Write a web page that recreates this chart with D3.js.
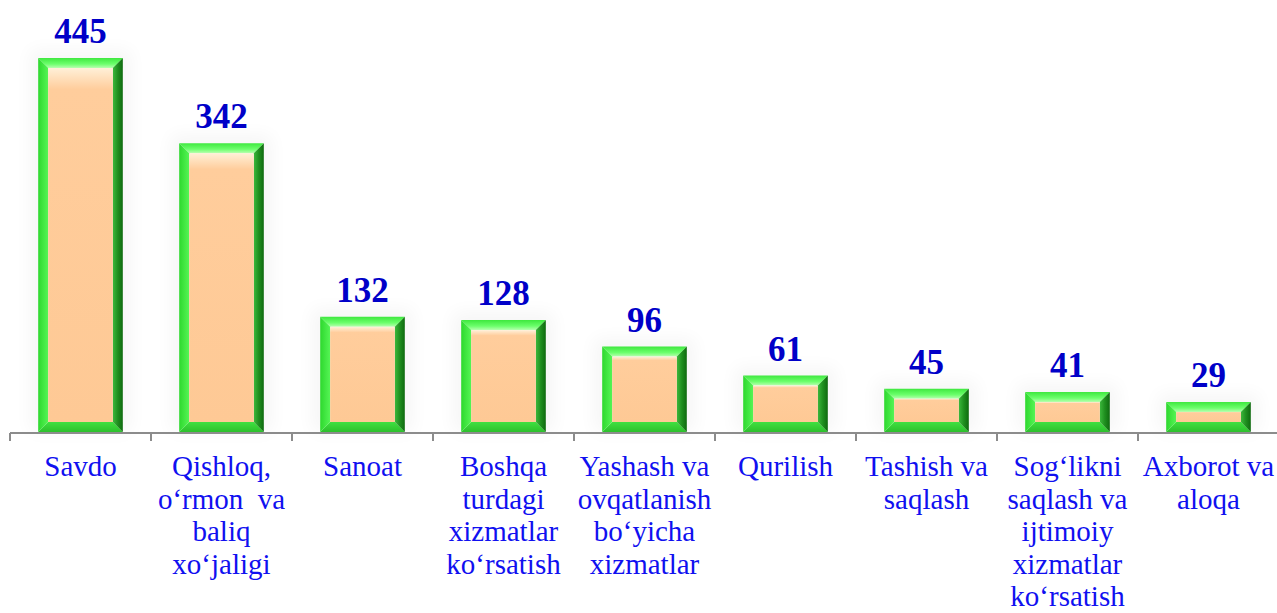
<!DOCTYPE html>
<html><head><meta charset="utf-8">
<script src="https://cdn.jsdelivr.net/npm/d3@7"></script>
<style>body{margin:0;background:#fff;}svg{display:block;}</style>
</head><body>
<svg id="chart" width="1277" height="613"></svg>
<script>
const categories = [
  "Savdo",
  "Qishloq,\no‘rmon  va\nbaliq\nxo‘jaligi",
  "Sanoat",
  "Boshqa\nturdagi\nxizmatlar\nko‘rsatish",
  "Yashash va\novqatlanish\nbo‘yicha\nxizmatlar",
  "Qurilish",
  "Tashish va\nsaqlash",
  "Sog‘likni\nsaqlash va\nijtimoiy\nxizmatlar\nko‘rsatish",
  "Axborot va\naloqa"
];
const values = [445, 342, 132, 128, 96, 61, 45, 41, 29];

const svg = d3.select("#chart");
const W = 1277, H = 613;
const x = d3.scaleBand().domain(d3.range(categories.length)).range([10, 1279]).paddingInner(0.4).paddingOuter(0.2);
const xOuter = d3.scaleBand().domain(d3.range(categories.length)).range([10, 1279]);
const y = d3.scaleLinear().domain([-7.3, 445]).range([432, 58]);
const base = y.range()[0];

const defs = svg.append("defs");
function lg(id, x1, y1, x2, y2, stops) {
  const g = defs.append("linearGradient").attr("id", id)
    .attr("x1", x1).attr("y1", y1).attr("x2", x2).attr("y2", y2);
  stops.forEach(s => g.append("stop").attr("offset", s[0]).attr("stop-color", s[1]));
}
lg("gTop", 0, 0, 0, 1, [[0, "#3fe83f"], [0.6, "#6cff6c"], [1, "#b8ffb0"]]);
lg("gLeft", 0, 0, 1, 0, [[0, "#2ed82e"], [1, "#55f555"]]);
lg("gRight", 0, 0, 1, 0, [[0, "#3cb83c"], [0.5, "#1f8f1f"], [1, "#0f6a0f"]]);
lg("gBottom", 0, 0, 0, 1, [[0, "#40e040"], [1, "#2cc02c"]]);
lg("gInner", 0, 0, 0, 1, [[0, "#fff0d8"], [0.06, "#ffcd9c"], [1, "#fec995"]]);
const f = defs.append("filter").attr("id", "glow").attr("x", "-30%").attr("y", "-30%").attr("width", "160%").attr("height", "160%");
f.append("feGaussianBlur").attr("stdDeviation", 9);

// faint glow
svg.append("g").selectAll("rect").data(values).join("rect")
  .attr("x", (d, i) => x(i) - 8).attr("width", x.bandwidth() + 16)
  .attr("y", d => y(d) - 8).attr("height", d => base - y(d) + 8)
  .attr("fill", "#000").attr("opacity", 0.035).attr("filter", "url(#glow)");

// axis
svg.append("line").attr("x1", 10).attr("x2", W).attr("y1", base + 1).attr("y2", base + 1)
  .attr("stroke", "#8c8c8c").attr("stroke-width", 2);
const ticks = d3.range(categories.length + 1).map(i => 10 + i * xOuter.step());
svg.append("g").selectAll("line").data(ticks).join("line")
  .attr("x1", d => d).attr("x2", d => d).attr("y1", base + 1).attr("y2", base + 9)
  .attr("stroke", "#8c8c8c").attr("stroke-width", 2);

// bars
const bev = 10;
const bars = svg.append("g").selectAll("g").data(values).join("g");
bars.each(function(d, i) {
  const g = d3.select(this);
  const x0 = x(i), x1 = x(i) + x.bandwidth(), y0 = y(d), y1 = base;
  const b = Math.min(bev, (y1 - y0) / 2 - 3);
  const pts = a => a.map(p => p.join(",")).join(" ");
  g.append("polygon").attr("points", pts([[x0, y0], [x1, y0], [x1 - bev, y0 + b], [x0 + bev, y0 + b]])).attr("fill", "url(#gTop)");
  g.append("polygon").attr("points", pts([[x0, y1], [x1, y1], [x1 - bev, y1 - b], [x0 + bev, y1 - b]])).attr("fill", "url(#gBottom)");
  g.append("polygon").attr("points", pts([[x0, y0], [x0 + bev, y0 + b], [x0 + bev, y1 - b], [x0, y1]])).attr("fill", "url(#gLeft)");
  g.append("polygon").attr("points", pts([[x1, y0], [x1 - bev, y0 + b], [x1 - bev, y1 - b], [x1, y1]])).attr("fill", "url(#gRight)");
  g.append("rect").attr("x", x0 + bev).attr("y", y0 + b).attr("width", x1 - x0 - 2 * bev).attr("height", Math.max(0, y1 - y0 - 2 * b))
    .attr("fill", "url(#gInner)");
});

// value labels
svg.append("g").selectAll("text").data(values).join("text")
  .attr("x", (d, i) => x(i) + x.bandwidth() / 2)
  .attr("y", d => y(d) - 15)
  .attr("text-anchor", "middle")
  .attr("font-family", "'Liberation Serif','Times New Roman',serif")
  .attr("font-weight", "bold").attr("font-size", 35).attr("fill", "#0000c8")
  .text(d => d);

// category labels
const cl = svg.append("g").selectAll("text").data(categories).join("text")
  .attr("x", (d, i) => xOuter(i) + xOuter.bandwidth() / 2)
  .attr("y", 476)
  .attr("text-anchor", "middle")
  .attr("font-family", "'Liberation Serif','Times New Roman',serif")
  .attr("font-size", 29).attr("fill", "#1010f0")
  .style("white-space", "pre");
cl.each(function(d) {
  const t = d3.select(this);
  d.split("\n").forEach((line, j) => {
    t.append("tspan").attr("x", t.attr("x")).attr("dy", j === 0 ? 0 : 32.6).text(line);
  });
});
</script>
</body></html>
